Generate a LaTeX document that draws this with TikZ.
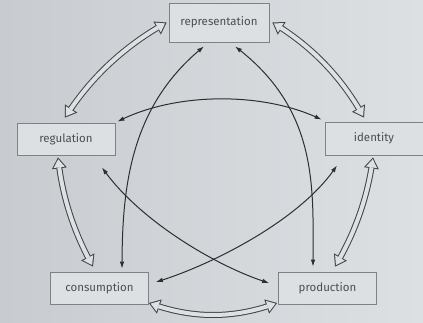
\documentclass[tikz,border=0pt]{standalone}
\usepackage{fontspec}
\setmainfont{Fira Sans}
\usetikzlibrary{arrows.meta,bending,calc}
\definecolor{bgL}{HTML}{C8CCD0}
\definecolor{bgR}{HTML}{DDE0E3}
\definecolor{boxfill}{HTML}{DDE0E3}
\definecolor{boxedge}{HTML}{7E8286}
\definecolor{ink}{HTML}{2C2E31}
\definecolor{txt}{HTML}{4A4E52}
\definecolor{hollowfill}{HTML}{DEE1E4}
\tikzset{
  box/.style={draw=boxedge, line width=0.8pt, fill=boxfill, minimum width=98pt, minimum height=32pt, inner sep=0pt, text=txt, font=\fontsize{11.5}{13}\selectfont},
  thin/.style={draw=ink, line width=1pt, {Latex[length=7pt,width=4.6pt]}-{Latex[length=7pt,width=4.6pt]}},
  hollowouter/.style={draw=ink!90, line width=6pt, {Triangle[length=11pt,width=15pt,line width=0pt]}-{Triangle[length=11pt,width=15pt,line width=0pt]}},
  hollowinner/.style={draw=hollowfill, line width=4pt, {Triangle[length=8.2pt,width=11.2pt,line width=0pt]}-{Triangle[length=8.2pt,width=11.2pt,line width=0pt]}, shorten <=1.8pt, shorten >=1.8pt},
}
\newcommand\hollowarrow[1]{\draw[hollowouter] #1; \draw[hollowinner] #1;}
\begin{document}
\begin{tikzpicture}[x=1pt,y=-1pt]
\useasboundingbox (0,0) rectangle (423,323);
\shade[left color=bgL, right color=bgR] (0,0) rectangle (423,323);

\node[box, minimum height=39pt, minimum width=100pt] (rep) at (219,22.5) {representation};
\node[box] (reg) at (66,139) {regulation};
\node[box, minimum height=33pt] (id) at (374,138.5) {identity};
\node[box] (con) at (99.5,288) {consumption};
\node[box] (pro) at (327.5,288) {production};

% hollow double arrows
\hollowarrow{($(rep.west)+(-2,0)$) .. controls +(-42,23.4) and +(25.8,-40.5) .. ($(reg.north)+(-1,-5)$)}
\hollowarrow{($(rep.east)+(3,0)$) .. controls +(39.3,23.5) and +(-22.1,-40.1) .. ($(id.north)+(-10,-4)$)}
\hollowarrow{($(reg.south)+(-8,2)$) .. controls +(4.1,39.1) and +(-19.3,-34.3) .. ($(con.north)+(-6.5,-5)$)}
\hollowarrow{($(id.south)+(-1,2)$) .. controls +(-5.1,39.3) and +(20.3,-34.1) .. ($(pro.north)+(7.5,-5)$)}
\hollowarrow{($(con.east)+(0,15)$) .. controls +(43.3,16) and +(-43.3,16) .. ($(pro.west)+(-1,15)$)}

% thin arrows
\draw[thin] ($(reg.north east)+(2,-1)$) .. controls +(58,-30) and +(-57,-28) .. ($(id.north west)+(-3,-2)$);
\draw[thin] ($(rep.south)+(-15,4)$) .. controls +(-75,60) and +(0,-79) .. ($(con.north)+(22.5,-3)$);
\draw[thin] ($(rep.south)+(16,4)$) .. controls +(85,64) and +(0,-77) .. ($(pro.north)+(-14.5,-5)$);
\draw[thin] ($(reg.south)+(36,12)$) .. controls +(36,53) and +(-50,-15) .. ($(pro.west)+(-9,-5)$);
\draw[thin] ($(id.south)+(-37,10)$) .. controls +(-37,57) and +(48,-14) .. ($(con.east)+(7,-6)$);
\end{tikzpicture}
\end{document}
